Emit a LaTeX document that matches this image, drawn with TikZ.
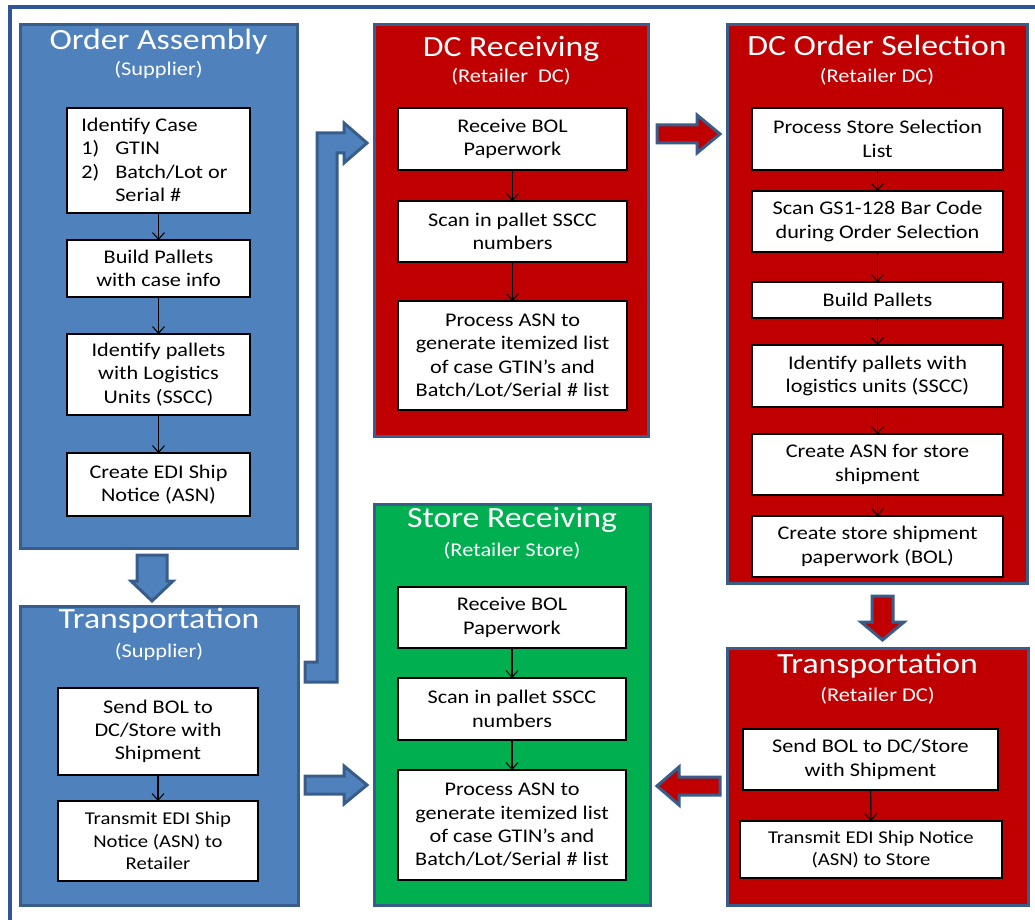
\documentclass[tikz,border=0pt]{standalone}
\usepackage{fontspec}
\setmainfont{Carlito}[FakeStretch=1.15]
\usetikzlibrary{arrows.meta}

\definecolor{framecol}{HTML}{2F5597}
\definecolor{bluefill}{HTML}{4F81BD}
\definecolor{blueedge}{HTML}{385D8A}
\definecolor{redfill}{HTML}{C00000}
\definecolor{greenfill}{HTML}{00B050}

\tikzset{
  box/.style={rectangle, inner sep=0pt, outer sep=0pt, align=center},
  region/.style={box, draw=blueedge, line width=2.25pt},
  bluereg/.style={region, fill=bluefill},
  redreg/.style={region, fill=redfill},
  greenreg/.style={region, fill=greenfill},
  ibox/.style={box, fill=white, draw=black, line width=1pt,
    font=\fontsize{14.5}{17.5}\selectfont},
  smallbox/.style={ibox, font=\fontsize{13.5}{16.9}\selectfont},
  title/.style={text=white, font=\fontsize{22}{26}\selectfont, anchor=base, inner sep=0pt},
  subtitle/.style={text=white, font=\fontsize{14.6}{17}\selectfont, anchor=base, inner sep=0pt},
  flow/.style={draw=black, line width=0.8pt, -{Straight Barb[length=5pt,width=9pt]}},
  bluearrow/.style={fill=bluefill, draw=blueedge, line width=2.25pt},
  redarrow/.style={fill=redfill, draw=blueedge, line width=2.25pt},
  frameline/.style={draw=framecol, line width=3pt},
}

% \blk{style}{name}{x1}{y1}{x2}{y2}{text}: a box given by its corners (pixel units)
\newcommand{\blk}[7]{%
  \pgfmathsetmacro\blkw{(#5-#3)*0.75}%
  \pgfmathsetmacro\blkh{(#6-#4)*0.75}%
  \node[#1, minimum width=\blkw pt, minimum height=\blkh pt] (#2)
    at ({(#3+#5)/2},{(#4+#6)/2}) {#7};}

\begin{document}
\begin{tikzpicture}[x=0.75pt, y=-0.75pt]
\useasboundingbox (0,0) rectangle (1035,920);

% outer frame
\draw[frameline] (10,920) -- (10,7) -- (1035,7);

% swim-lane blocks
\blk{bluereg}{oa}{20}{25}{297}{548}{}
\blk{bluereg}{ts}{20}{606}{298}{905}{}
\blk{redreg}{dr}{374}{25}{648}{436}{}
\blk{redreg}{ds}{727}{25}{1027}{583}{}
\blk{greenreg}{sr}{374}{504}{650}{905}{}
\blk{redreg}{tr}{727}{648}{1028}{905}{}

% block arrows between the lanes
\draw[bluearrow] (137,555) -- (167,555) -- (167,581) -- (173,581) -- (152,601)
  -- (131,581) -- (137,581) -- cycle;
\draw[bluearrow] (305,682) -- (337,682) -- (337,153) -- (344,153) -- (344,163)
  -- (367,143) -- (344,123) -- (344,133) -- (317,133) -- (317,662) -- (305,662) -- cycle;
\draw[bluearrow] (305,776) -- (344,776) -- (344,766) -- (367,785) -- (344,804)
  -- (344,794) -- (305,794) -- cycle;
\draw[redarrow] (657,125) -- (697,125) -- (697,115) -- (720,134) -- (697,153)
  -- (697,143) -- (657,143) -- cycle;
\draw[redarrow] (872,596) -- (893,596) -- (893,622) -- (904,622) -- (882.5,640)
  -- (861,622) -- (872,622) -- cycle;
\draw[redarrow] (720,777) -- (679,777) -- (679,767) -- (657,786) -- (679,805)
  -- (679,795) -- (720,795) -- cycle;

% titles
\node[title] (oat) at (158.5,50) {Order Assembly};
\node[subtitle] (oas) at (158.5,76) {(Supplier)};
\node[title] (tst) at (159,628) {Transportation};
\node[subtitle] (tss) at (159,657) {(Supplier)};
\node[title] (drt) at (511,57) {DC Receiving};
\node[subtitle] (drs) at (511,83) {(Retailer\ \ DC)};
\node[title] (dst) at (877,56) {DC Order Selection};
\node[subtitle] (dss) at (877,83) {(Retailer DC)};
\node[title] (srt) at (512,527) {Store Receiving};
\node[subtitle] (srs) at (512,556) {(Retailer Store)};
\node[title] (trt) at (877.5,673) {Transportation};
\node[subtitle] (trs) at (877.5,701) {(Retailer DC)};

% Order Assembly steps
\blk{ibox}{oa1}{67}{108}{250}{213}{}
\node[anchor=west, inner sep=0pt, font=\fontsize{14.5}{17.5}\selectfont] (oa1t) at (81,162)
  {\begin{tabular}{@{}l@{\hspace{12pt}}l@{}}
   \multicolumn{2}{@{}l@{}}{Identify Case}\\
   1) & GTIN\\
   2) & Batch/Lot or\\
      & Serial \#
   \end{tabular}};
\blk{ibox}{oa2}{67}{240}{250}{297}{Build Pallets\\with case info}
\blk{ibox}{oa3}{67}{334}{250}{415}{Identify pallets\\with Logistics\\Units (SSCC)}
\blk{ibox}{oa4}{67}{453}{250}{516}{Create EDI Ship\\Notice (ASN)}

% Transportation (supplier) steps
\blk{ibox}{ts1}{58}{688}{258}{775}{Send BOL to\\DC/Store with\\Shipment}
\blk{smallbox}{ts2}{58}{801}{258}{881}{Transmit EDI Ship\\Notice (ASN) to\\Retailer}

% DC Receiving steps
\blk{ibox}{dr1}{398}{108}{627}{170}{Receive BOL\\Paperwork}
\blk{ibox}{dr2}{398}{201}{627}{262}{Scan in pallet SSCC\\numbers}
\blk{ibox}{dr3}{398}{301}{627}{410}{Process ASN to\\generate itemized list\\of case GTIN’s and\\Batch/Lot/Serial \# list}

% DC Order Selection steps
\blk{ibox}{ds1}{752}{108}{1003}{170}{Process Store Selection\\List}
\blk{ibox}{ds2}{752}{191}{1003}{252}{Scan GS1-128 Bar Code\\during Order Selection}
\blk{ibox}{ds3}{752}{282}{1003}{318}{Build Pallets}
\blk{ibox}{ds4}{752}{345}{1003}{407}{Identify pallets with\\logistics units (SSCC)}
\blk{ibox}{ds5}{752}{434}{1003}{495}{Create ASN for store\\shipment}
\blk{ibox}{ds6}{752}{516}{1003}{577}{Create store shipment\\paperwork (BOL)}

% Store Receiving steps
\blk{ibox}{sr1}{398}{587}{626}{648}{Receive BOL\\Paperwork}
\blk{ibox}{sr2}{398}{678}{626}{740}{Scan in pallet SSCC\\numbers}
\blk{ibox}{sr3}{398}{770}{626}{880}{Process ASN to\\generate itemized list\\of case GTIN’s and\\Batch/Lot/Serial \# list}

% Transportation (retailer DC) steps
\blk{ibox}{tr1}{743}{729}{998}{790}{Send BOL to DC/Store\\with Shipment}
\blk{smallbox}{tr2}{740}{821}{1002}{878}{Transmit EDI Ship Notice\\(ASN) to Store}

% step-to-step flow
\draw[flow] (oa1) -- (oa2);
\draw[flow] (oa2) -- (oa3);
\draw[flow] (oa3) -- (oa4);
\draw[flow] (ts1) -- (ts2);
\draw[flow] (dr1) -- (dr2);
\draw[flow] (dr2) -- (dr3);
\draw[flow] (ds1) -- (ds2);
\draw[flow] (ds2) -- (ds3);
\draw[flow] (ds3) -- (ds4);
\draw[flow] (ds4) -- (ds5);
\draw[flow] (ds5) -- (ds6);
\draw[flow] (sr1) -- (sr2);
\draw[flow] (sr2) -- (sr3);
\draw[flow] (tr1) -- (tr2);
\end{tikzpicture}
\end{document}
